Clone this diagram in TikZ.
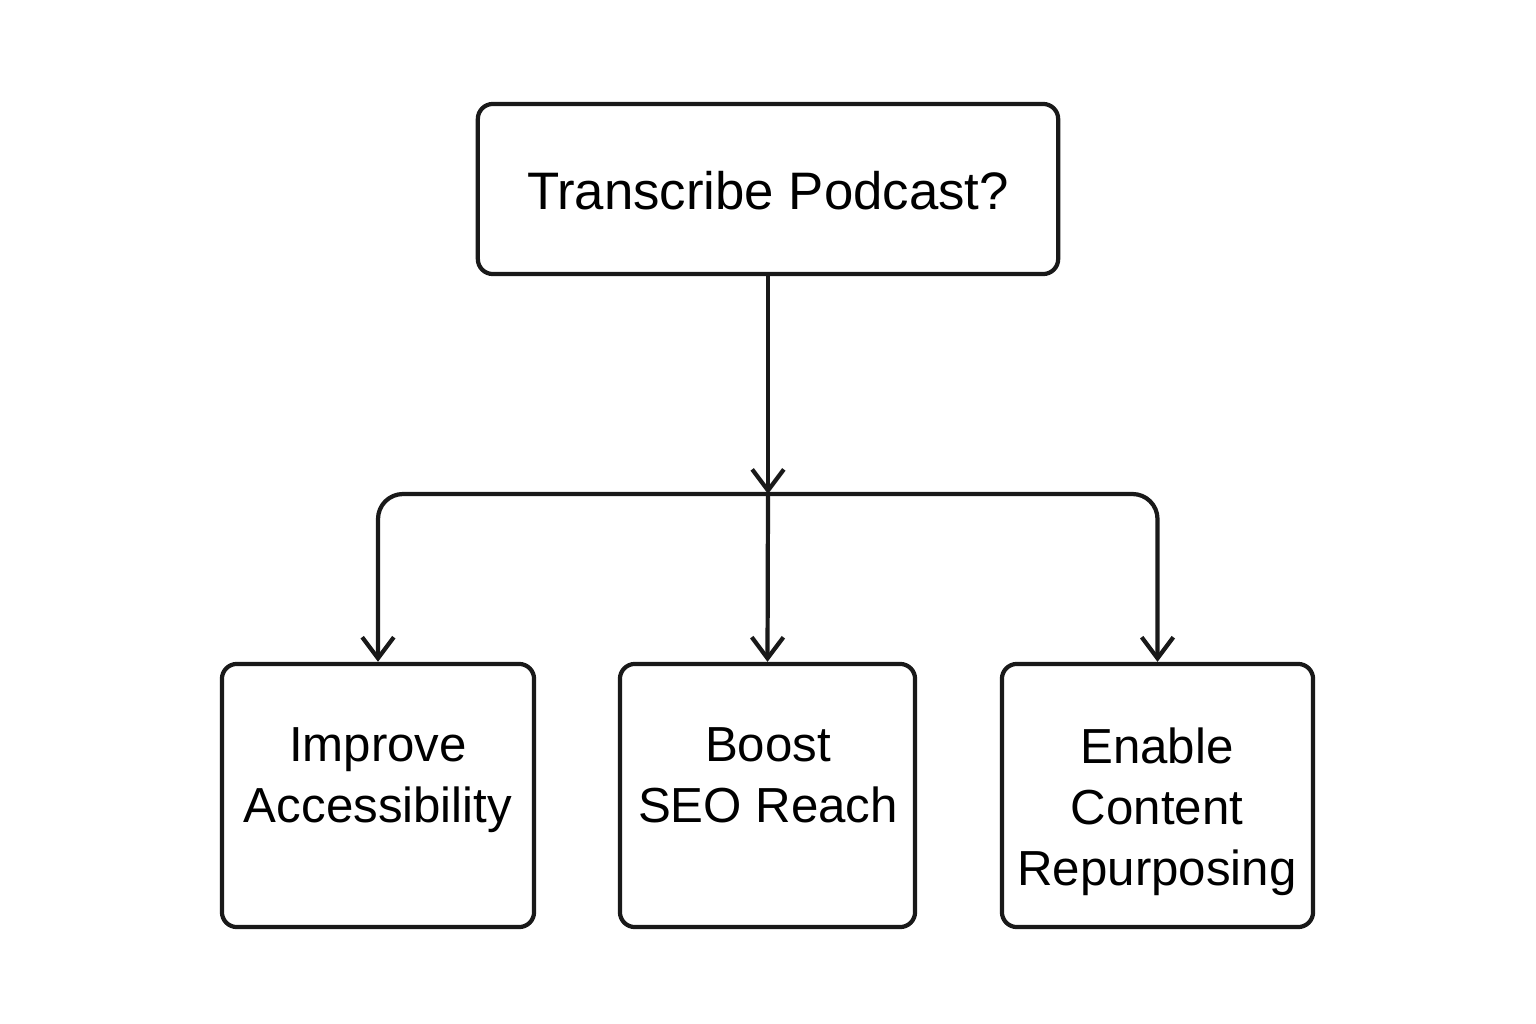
\documentclass[tikz,border=0pt]{standalone}
\usepackage{fontspec}
\setmainfont{Liberation Sans}
\usetikzlibrary{arrows.meta}
\begin{document}
\begin{tikzpicture}[x=0.01cm,y=-0.01cm,
  box/.style={draw=black!90, line width=1.2pt, rounded corners=0.15cm, inner sep=0pt},
  lbl/.style={font=\fontsize{14pt}{17.4pt}\selectfont, align=center, anchor=north},
  conn/.style={draw=black!90, line width=1.2pt, -{Straight Barb[length=6pt,width=9pt,line width=1.2pt]}}]
\useasboundingbox (0,0) rectangle (1536,1024);
\node[box, minimum width=5.8cm, minimum height=1.7cm] (top) at (768,189) {};
\node[font=\fontsize{15pt}{18pt}\selectfont] (toptxt) at (768,191) {Transcribe Podcast?};
\node[box, minimum width=3.12cm, minimum height=2.63cm] (b1) at (378,795.5) {};
\node[box, minimum width=2.95cm, minimum height=2.63cm] (b2) at (767.5,795.5) {};
\node[box, minimum width=3.11cm, minimum height=2.63cm] (b3) at (1157.5,795.5) {};
\node[lbl] (t1) at (378,715) {Improve\\Accessibility};
\node[lbl] (t2) at (768,715) {Boost\\SEO Reach};
\node[lbl] (t3) at (1157,715) {Enable\\Content\\Repurposing};
\coordinate (j) at (768,494);
\draw[conn] (top.south) -- (j);
\draw[conn] (j) -- (b2.north);
\draw[conn, rounded corners=0.25cm] (j) -| (b1.north);
\draw[conn, rounded corners=0.25cm] (j) -| (b3.north);
\end{tikzpicture}
\end{document}
